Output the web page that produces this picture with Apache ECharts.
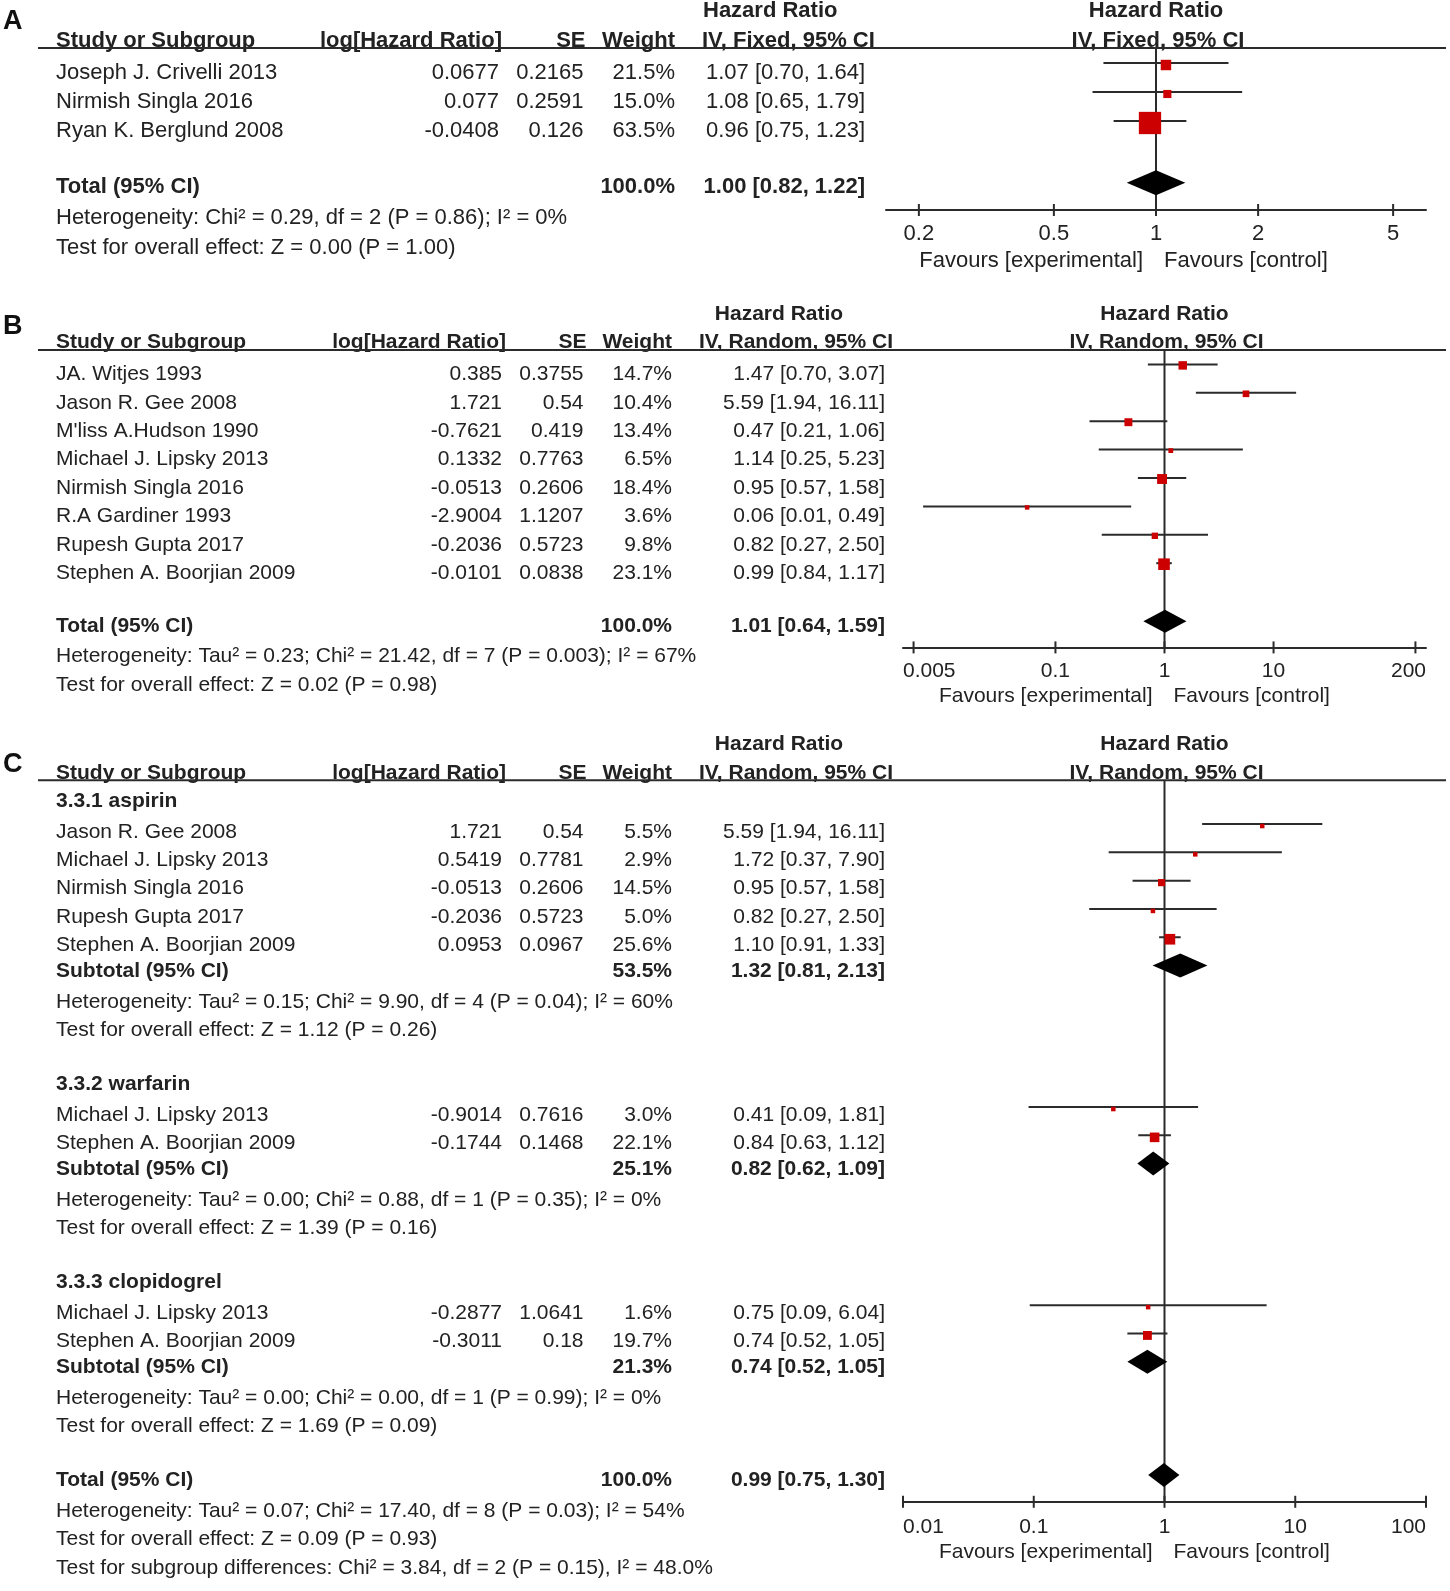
<!DOCTYPE html>
<html>
<head>
<meta charset="utf-8">
<script src="https://cdn.jsdelivr.net/npm/echarts@6.0.0/dist/echarts.min.js"></script>
<style>
html,body{margin:0;padding:0;background:#ffffff;}
#chart{width:1450px;height:1591px;}
</style>
</head>
<body>
<div id="chart"></div>
<script>
// ================= DATA =================
// Panel A
const A_names = ['Joseph J. Crivelli 2013', 'Nirmish Singla 2016', 'Ryan K. Berglund 2008'];
const A_logHR = [0.0677, 0.077, -0.0408];
const A_se = [0.2165, 0.2591, 0.126];
const A_weight = [21.5, 15.0, 63.5];
const A_hr = [1.07, 1.08, 0.96];
const A_lo = [0.70, 0.65, 0.75];
const A_hi = [1.64, 1.79, 1.23];
const A_total = [100.0, 1.00, 0.82, 1.22];
const A_notes = ['Heterogeneity: Chi² = 0.29, df = 2 (P = 0.86); I² = 0%', 'Test for overall effect: Z = 0.00 (P = 1.00)'];
const A_ticks = [0.2, 0.5, 1, 2, 5];
const A_tickLabels = ['0.2', '0.5', '1', '2', '5'];

// Panel B
const B_names = ['JA. Witjes 1993', 'Jason R. Gee 2008', "M'liss A.Hudson 1990", 'Michael J. Lipsky 2013', 'Nirmish Singla 2016', 'R.A Gardiner 1993', 'Rupesh Gupta 2017', 'Stephen A. Boorjian 2009'];
const B_logHR = [0.385, 1.721, -0.7621, 0.1332, -0.0513, -2.9004, -0.2036, -0.0101];
const B_se = [0.3755, 0.54, 0.419, 0.7763, 0.2606, 1.1207, 0.5723, 0.0838];
const B_weight = [14.7, 10.4, 13.4, 6.5, 18.4, 3.6, 9.8, 23.1];
const B_hr = [1.47, 5.59, 0.47, 1.14, 0.95, 0.06, 0.82, 0.99];
const B_lo = [0.70, 1.94, 0.21, 0.25, 0.57, 0.01, 0.27, 0.84];
const B_hi = [3.07, 16.11, 1.06, 5.23, 1.58, 0.49, 2.50, 1.17];
const B_total = [100.0, 1.01, 0.64, 1.59];
const B_notes = ['Heterogeneity: Tau² = 0.23; Chi² = 21.42, df = 7 (P = 0.003); I² = 67%', 'Test for overall effect: Z = 0.02 (P = 0.98)'];
const B_ticks = [0.005, 0.1, 1, 10, 200];
const B_tickLabels = ['0.005', '0.1', '1', '10', '200'];

// Panel C
const C_groups = ['3.3.1 aspirin', '3.3.2 warfarin', '3.3.3 clopidogrel'];
const C1_names = ['Jason R. Gee 2008', 'Michael J. Lipsky 2013', 'Nirmish Singla 2016', 'Rupesh Gupta 2017', 'Stephen A. Boorjian 2009'];
const C1_logHR = [1.721, 0.5419, -0.0513, -0.2036, 0.0953];
const C1_se = [0.54, 0.7781, 0.2606, 0.5723, 0.0967];
const C1_weight = [5.5, 2.9, 14.5, 5.0, 25.6];
const C1_hr = [5.59, 1.72, 0.95, 0.82, 1.10];
const C1_lo = [1.94, 0.37, 0.57, 0.27, 0.91];
const C1_hi = [16.11, 7.90, 1.58, 2.50, 1.33];
const C1_subtotal = [53.5, 1.32, 0.81, 2.13];
const C1_notes = ['Heterogeneity: Tau² = 0.15; Chi² = 9.90, df = 4 (P = 0.04); I² = 60%', 'Test for overall effect: Z = 1.12 (P = 0.26)'];

const C2_names = ['Michael J. Lipsky 2013', 'Stephen A. Boorjian 2009'];
const C2_logHR = [-0.9014, -0.1744];
const C2_se = [0.7616, 0.1468];
const C2_weight = [3.0, 22.1];
const C2_hr = [0.41, 0.84];
const C2_lo = [0.09, 0.63];
const C2_hi = [1.81, 1.12];
const C2_subtotal = [25.1, 0.82, 0.62, 1.09];
const C2_notes = ['Heterogeneity: Tau² = 0.00; Chi² = 0.88, df = 1 (P = 0.35); I² = 0%', 'Test for overall effect: Z = 1.39 (P = 0.16)'];

const C3_names = ['Michael J. Lipsky 2013', 'Stephen A. Boorjian 2009'];
const C3_logHR = [-0.2877, -0.3011];
const C3_se = [1.0641, 0.18];
const C3_weight = [1.6, 19.7];
const C3_hr = [0.75, 0.74];
const C3_lo = [0.09, 0.52];
const C3_hi = [6.04, 1.05];
const C3_subtotal = [21.3, 0.74, 0.52, 1.05];
const C3_notes = ['Heterogeneity: Tau² = 0.00; Chi² = 0.00, df = 1 (P = 0.99); I² = 0%', 'Test for overall effect: Z = 1.69 (P = 0.09)'];

const C_total = [100.0, 0.99, 0.75, 1.30];
const C_notes = ['Heterogeneity: Tau² = 0.07; Chi² = 17.40, df = 8 (P = 0.03); I² = 54%', 'Test for overall effect: Z = 0.09 (P = 0.93)', 'Test for subgroup differences: Chi² = 3.84, df = 2 (P = 0.15), I² = 48.0%'];
const C_ticks = [0.01, 0.1, 1, 10, 100];
const C_tickLabels = ['0.01', '0.1', '1', '10', '100'];

const HDR_STUDY = 'Study or Subgroup';
const HDR_LOG = 'log[Hazard Ratio]';
const HDR_SE = 'SE';
const HDR_W = 'Weight';
const HDR_HR = 'Hazard Ratio';
const FAV_EXP = 'Favours [experimental]';
const FAV_CTL = 'Favours [control]';
const TOTAL_LABEL = 'Total (95% CI)';
const SUB_LABEL = 'Subtotal (95% CI)';

// ================= STYLE / LAYOUT =================
const FONT = '"Liberation Sans", Arial, Helvetica, sans-serif';
const INK = '#222222';
const LINE = '#2b2b2b';
const RED = '#cc0000';

const mctx = document.createElement('canvas').getContext('2d');
function textW(t, size, bold) { mctx.font = (bold ? 'bold ' : '') + size + 'px ' + FONT; return mctx.measureText(t).width; }

function T(text, x, y, o) {
  o = o || {};
  return {
    type: 'text', silent: true, x: x, y: y, z2: 10,
    style: {
      text: text, align: o.align || 'left', verticalAlign: 'middle',
      fontSize: o.size || 22, fontWeight: o.bold ? 'bold' : 'normal',
      fontFamily: FONT, fill: o.color || INK
    }
  };
}

function studyRows(names, logHR, se, weight, hr, lo, hi, slots) {
  return names.map((n, i) => ({type: 'study', slot: slots[i], name: n, logHR: logHR[i], se: se[i], w: weight[i], hr: hr[i], lo: lo[i], hi: hi[i]}));
}
function sumRow(label, arr, slot) { return {type: 'sum', slot: slot, label: label, w: arr[0], hr: arr[1], lo: arr[2], hi: arr[3]}; }
function noteRows(notes, slots) { return notes.map((t, i) => ({type: 'note', slot: slots[i], text: t})); }

const colsBC = {name: 56, logR: 502, seR: 583.5, wR: 672, ciR: 885};
const hdrBC = {logR: 506, seR: 586.5, wR: 672, hrX: 779, hrAlign: 'center', ivX: 796, ivAlign: 'center'};
const R = 0.09; // slight downward nudge of regular-text rows in panel C

const PANELS = [
  {
    letter: 'A', letterY: 22, hdr1: 11, hdr2: 40.5, line: 48, axis: 210,
    left: 886, right: 1426, xMin: 0.16, xMax: 6.25, y0: 72.5, step: 29,
    k: 1.22, minSq: 4, dmH: 25, ciDy: -9.5, sqDy: -7.5, dmDy: -4,
    fs: 22, fsB: 22, fsH: 22, fsT: 22, fsF: 22, tickDy: 24, favDy: 51, favL: -13, favR: 8,
    method: 'IV, Fixed, 95% CI',
    cols: {name: 56, logR: 499, seR: 583.5, wR: 675, ciR: 865},
    hdr: {logR: 502, seR: 585.5, wR: 675, hrX: 703, hrAlign: 'left', ivX: 702, ivAlign: 'left'},
    ticks: A_ticks, tickLabels: A_tickLabels,
    rows: [].concat(
      studyRows(A_names, A_logHR, A_se, A_weight, A_hr, A_lo, A_hi, [0, 1, 2]),
      [sumRow(TOTAL_LABEL, A_total, 3.94)],
      noteRows(A_notes, [5.03, 6.06])
    )
  },
  {
    letter: 'B', letterY: 327, hdr1: 314.5, hdr2: 342, line: 350, axis: 647.4,
    left: 903, right: 1426, xMin: 0.004, xMax: 250, y0: 374.4, step: 28.4,
    k: 1.29, minSq: 4.5, dmH: 23, ciDy: -10, sqDy: -9, dmDy: -5,
    fs: 21, fsB: 21, fsH: 21, fsT: 21, fsF: 21, tickDy: 24, favDy: 49, favL: -12, favR: 9,
    method: 'IV, Random, 95% CI',
    cols: colsBC, hdr: hdrBC,
    ticks: B_ticks, tickLabels: B_tickLabels,
    rows: [].concat(
      studyRows(B_names, B_logHR, B_se, B_weight, B_hr, B_lo, B_hi, [0, 1, 2, 3, 4, 5, 6, 7]),
      [sumRow(TOTAL_LABEL, B_total, 8.87)],
      noteRows(B_notes, [9.92, 10.93])
    )
  },
  {
    letter: 'C', letterY: 765, hdr1: 744.7, hdr2: 773, line: 780.3, axis: 1501.8,
    left: 903, right: 1426, xMin: 0.01, xMax: 100, y0: 801.2, step: 28.3,
    k: 1.1, minSq: 4.5, dmH: 24, ciDy: -8, sqDy: -6, dmDy: -5.5,
    fs: 21, fsB: 21, fsH: 21, fsT: 21, fsF: 21, tickDy: 25, favDy: 50, favL: -12, favR: 9,
    method: 'IV, Random, 95% CI',
    cols: colsBC, hdr: hdrBC,
    ticks: C_ticks, tickLabels: C_tickLabels,
    rows: [].concat(
      [{type: 'group', slot: 0, label: C_groups[0]}],
      studyRows(C1_names, C1_logHR, C1_se, C1_weight, C1_hr, C1_lo, C1_hi, [1 + R, 2 + R, 3 + R, 4 + R, 5 + R]),
      [sumRow(SUB_LABEL, C1_subtotal, 6)],
      noteRows(C1_notes, [7 + R, 8 + R]),
      [{type: 'group', slot: 10, label: C_groups[1]}],
      studyRows(C2_names, C2_logHR, C2_se, C2_weight, C2_hr, C2_lo, C2_hi, [11 + R, 12 + R]),
      [sumRow(SUB_LABEL, C2_subtotal, 13)],
      noteRows(C2_notes, [14 + R, 15 + R]),
      [{type: 'group', slot: 17, label: C_groups[2]}],
      studyRows(C3_names, C3_logHR, C3_se, C3_weight, C3_hr, C3_lo, C3_hi, [18 + R, 19 + R]),
      [sumRow(SUB_LABEL, C3_subtotal, 20)],
      noteRows(C3_notes, [21 + R, 22 + R]),
      [sumRow(TOTAL_LABEL, C_total, 24)],
      noteRows(C_notes, [25 + R, 26 + R, 27 + R])
    )
  }
];

// ================= BUILD OPTION =================
const grids = [], xAxes = [], yAxes = [], series = [], graphics = [];

PANELS.forEach((P, gi) => {
  grids.push({left: P.left, width: P.right - P.left, top: P.line, height: P.axis - P.line, containLabel: false});
  xAxes.push({
    gridIndex: gi, type: 'log', logBase: 10, min: P.xMin, max: P.xMax,
    axisLine: {show: true, onZero: false, lineStyle: {color: LINE, width: 2}},
    axisTick: {show: false}, axisLabel: {show: false}, splitLine: {show: false},
    minorTick: {show: false}, minorSplitLine: {show: false}
  });
  yAxes.push({
    gridIndex: gi, type: 'value', inverse: true, show: false,
    min: (P.line - P.y0) / P.step, max: (P.axis - P.y0) / P.step,
    splitLine: {show: false}
  });

  // reference line at 1, right-side headers and "favours" labels
  series.push({
    type: 'custom', coordinateSystem: 'cartesian2d', xAxisIndex: gi, yAxisIndex: gi,
    clip: false, silent: true, z: 1, data: [[1, 0]],
    renderItem: (params, api) => {
      const cs = params.coordSys;
      const x1 = api.coord([1, 0])[0];
      const bottom = cs.y + cs.height;
      return {type: 'group', children: [
        {type: 'line', shape: {x1: x1, y1: cs.y, x2: x1, y2: bottom}, style: {stroke: LINE, lineWidth: 2}},
        T(HDR_HR, x1, P.hdr1, {align: 'center', bold: true, size: P.fsH}),
        T(P.method, x1 + 2, P.hdr2, {align: 'center', bold: true, size: P.fsH}),
        T(FAV_EXP, x1 + P.favL, bottom + P.favDy, {align: 'right', size: P.fsF}),
        T(FAV_CTL, x1 + P.favR, bottom + P.favDy, {align: 'left', size: P.fsF})
      ]};
    }
  });

  // axis ticks and labels
  series.push({
    type: 'custom', coordinateSystem: 'cartesian2d', xAxisIndex: gi, yAxisIndex: gi,
    clip: false, silent: true, z: 2, data: P.ticks.map(v => [v, 0]),
    renderItem: (params, api) => {
      const cs = params.coordSys;
      const v = P.ticks[params.dataIndex];
      const lab = P.tickLabels[params.dataIndex];
      const x = api.coord([v, 0])[0];
      const bottom = cs.y + cs.height;
      const w = textW(lab, P.fsT);
      let lx = x, al = 'center';
      if (x - w / 2 < cs.x) { lx = cs.x; al = 'left'; }
      else if (x + w / 2 > cs.x + cs.width) { lx = cs.x + cs.width; al = 'right'; }
      return {type: 'group', children: [
        {type: 'line', shape: {x1: x, y1: bottom - 6, x2: x, y2: bottom + 6}, style: {stroke: LINE, lineWidth: 2}},
        T(lab, lx, bottom + P.tickDy, {align: al, size: P.fsT})
      ]};
    }
  });

  // table text
  series.push({
    type: 'custom', coordinateSystem: 'cartesian2d', xAxisIndex: gi, yAxisIndex: gi,
    clip: false, silent: true, z: 2, data: P.rows.map(r => [1, r.slot]),
    renderItem: (params, api) => {
      const r = P.rows[params.dataIndex];
      const y = api.coord([1, r.slot])[1];
      const c = P.cols;
      const ch = [];
      const reg = {size: P.fs}, regR = {size: P.fs, align: 'right'};
      const bold = {size: P.fsB, bold: true}, boldR = {size: P.fsB, bold: true, align: 'right'};
      if (r.type === 'study') {
        ch.push(T(r.name, c.name, y, reg));
        ch.push(T(String(r.logHR), c.logR, y, regR));
        ch.push(T(String(r.se), c.seR, y, regR));
        ch.push(T(r.w.toFixed(1) + '%', c.wR, y, regR));
        ch.push(T(r.hr.toFixed(2) + ' [' + r.lo.toFixed(2) + ', ' + r.hi.toFixed(2) + ']', c.ciR, y, regR));
      } else if (r.type === 'sum') {
        ch.push(T(r.label, c.name, y, bold));
        ch.push(T(r.w.toFixed(1) + '%', c.wR, y, boldR));
        ch.push(T(r.hr.toFixed(2) + ' [' + r.lo.toFixed(2) + ', ' + r.hi.toFixed(2) + ']', c.ciR, y, boldR));
      } else if (r.type === 'group') {
        ch.push(T(r.label, c.name, y, bold));
      } else {
        ch.push(T(r.text, c.name, y, reg));
      }
      return {type: 'group', children: ch};
    }
  });

  // forest marks: CI lines, weighted squares, diamonds
  const marks = P.rows.filter(r => r.type === 'study' || r.type === 'sum').map(r => {
    if (r.type === 'study') {
      return {kind: 'study', slot: r.slot, est: Math.exp(r.logHR), lo: Math.exp(r.logHR - 1.96 * r.se), hi: Math.exp(r.logHR + 1.96 * r.se), w: r.w};
    }
    return {kind: 'diamond', slot: r.slot, est: r.hr, lo: r.lo, hi: r.hi, w: r.w};
  });
  series.push({
    type: 'custom', coordinateSystem: 'cartesian2d', xAxisIndex: gi, yAxisIndex: gi,
    clip: false, silent: true, z: 3, data: marks.map(m => [m.est, m.slot]),
    renderItem: (params, api) => {
      const m = marks[params.dataIndex];
      const y = api.coord([1, m.slot])[1];
      const xe = api.coord([m.est, m.slot])[0];
      const xl = api.coord([m.lo, m.slot])[0];
      const xh = api.coord([m.hi, m.slot])[0];
      if (m.kind === 'study') {
        const s = Math.max(P.minSq, P.k * Math.pow(m.w, 0.7));
        return {type: 'group', children: [
          {type: 'line', shape: {x1: xl, y1: y + P.ciDy, x2: xh, y2: y + P.ciDy}, style: {stroke: LINE, lineWidth: 2}},
          {type: 'rect', shape: {x: xe - s / 2, y: y + P.sqDy - s / 2, width: s, height: s}, style: {fill: RED}}
        ]};
      }
      const yc = y + P.dmDy, h = P.dmH / 2;
      return {type: 'polygon', shape: {points: [[xl, yc], [xe, yc - h], [xh, yc], [xe, yc + h]]}, style: {fill: '#000000'}};
    }
  });

  // static header text and rule
  const H = P.hdr;
  graphics.push(T(P.letter, 3, P.letterY, {bold: true, size: 27, color: '#111'}));
  graphics.push(T(HDR_STUDY, P.cols.name, P.hdr2, {bold: true, size: P.fsH}));
  graphics.push(T(HDR_LOG, H.logR, P.hdr2, {bold: true, size: P.fsH, align: 'right'}));
  graphics.push(T(HDR_SE, H.seR, P.hdr2, {bold: true, size: P.fsH, align: 'right'}));
  graphics.push(T(HDR_W, H.wR, P.hdr2, {bold: true, size: P.fsH, align: 'right'}));
  graphics.push(T(HDR_HR, H.hrX, P.hdr1, {bold: true, size: P.fsH, align: H.hrAlign}));
  graphics.push(T(P.method, H.ivX, P.hdr2, {bold: true, size: P.fsH, align: H.ivAlign}));
  graphics.push({type: 'line', silent: true, z: 100, shape: {x1: 38, y1: P.line, x2: 1446, y2: P.line}, style: {stroke: LINE, lineWidth: 2}});
});

const chart = echarts.init(document.getElementById('chart'), null, {renderer: 'canvas'});
chart.setOption({
  backgroundColor: '#ffffff',
  animation: false,
  grid: grids,
  xAxis: xAxes,
  yAxis: yAxes,
  series: series,
  graphic: {elements: graphics}
});
</script>
</body>
</html>
